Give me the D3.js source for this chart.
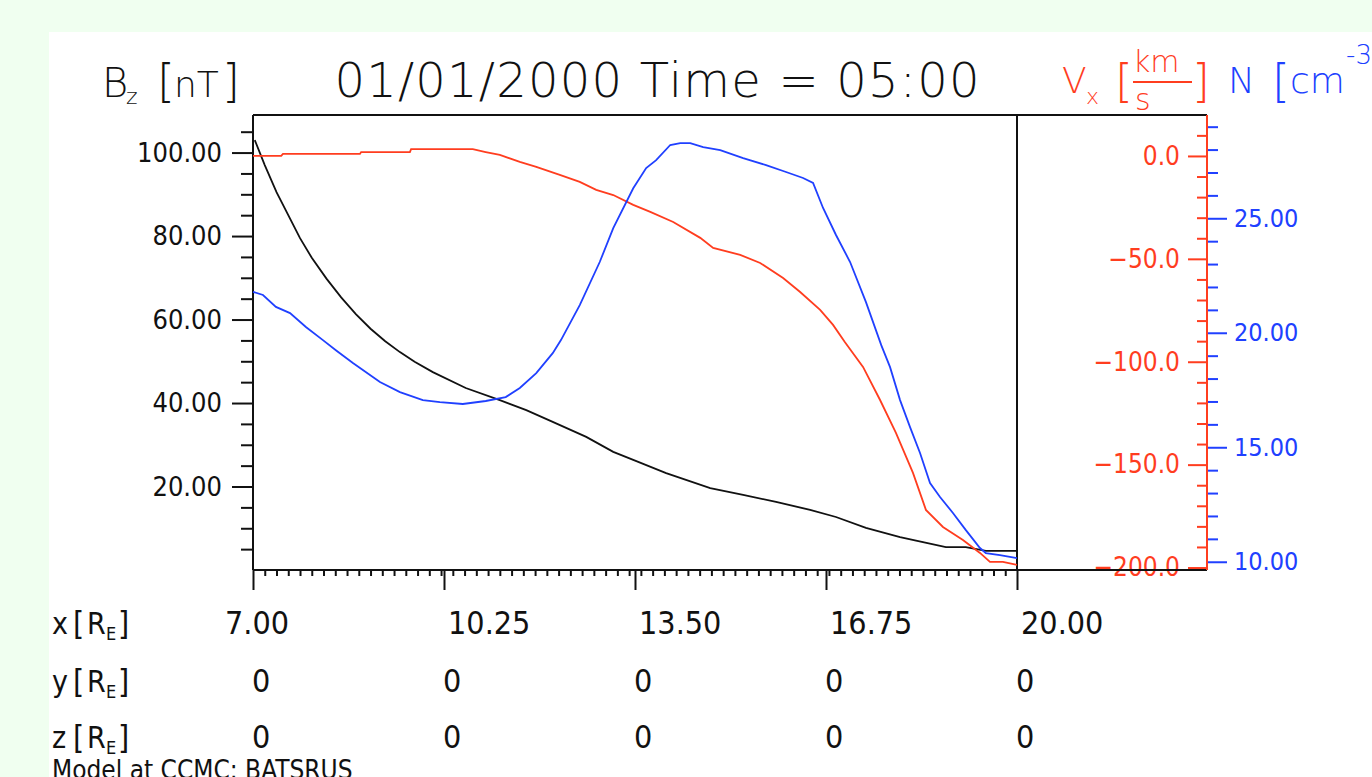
<!DOCTYPE html>
<html>
<head>
<meta charset="utf-8">
<script src="https://cdn.jsdelivr.net/npm/d3@7"></script>
<style>
  html, body { margin: 0; padding: 0; background: #f0fff0; overflow: hidden; }
  svg { display: block; }
  text { font-family: "DejaVu Sans", sans-serif; }
  .cond { font-stretch: condensed; }
  .thin { font-weight: 200; }
</style>
</head>
<body>
<svg id="chart" width="1372" height="777"></svg>
<script>
// DATA
const xTicks = [7.0, 10.25, 13.5, 16.75, 20.0];
const yRow = [0, 0, 0, 0, 0];
const zRow = [0, 0, 0, 0, 0];

const bzX = [7.03, 7.2, 7.4, 7.6, 7.8, 8.0, 8.25, 8.5, 8.75, 9.0, 9.25, 9.5, 9.75, 10.06, 10.62, 11.20, 11.65, 12.10, 12.67, 13.13, 13.47, 14.03, 14.78, 15.34, 15.90, 16.48, 16.92, 17.43, 18.01, 18.40, 18.79, 19.13, 19.47, 20.0];
const bzVal = [103.0, 97.0, 90.5, 85.0, 79.5, 74.8, 69.8, 65.3, 61.3, 57.8, 54.8, 52.2, 49.9, 47.4, 43.6, 40.7, 38.3, 35.5, 31.9, 28.3, 26.4, 23.2, 19.6, 18.0, 16.3, 14.4, 12.7, 10.1, 7.9, 6.7, 5.5, 5.5, 4.6, 4.6];

const vxX = [7.0, 7.48, 7.51, 8.82, 8.84, 9.67, 9.69, 10.74, 10.96, 11.20, 11.54, 11.82, 12.22, 12.56, 12.84, 13.13, 13.47, 13.76, 14.15, 14.61, 14.83, 15.29, 15.63, 16.02, 16.31, 16.65, 16.87, 17.07, 17.38, 17.67, 17.94, 18.23, 18.45, 18.74, 19.08, 19.37, 19.54, 19.76, 20.0];
const vxVal = [0.0, 0.0, 1.0, 1.0, 1.9, 1.9, 3.3, 3.3, 1.9, 0.5, -2.9, -5.3, -9.2, -12.6, -16.5, -19.0, -23.8, -27.2, -32.1, -39.8, -44.7, -48.1, -52.0, -59.3, -66.1, -74.8, -82.1, -90.4, -102.5, -118.6, -134.6, -154.0, -172.0, -180.3, -186.6, -192.9, -197.3, -197.3, -198.7];

const nX = [7.0, 7.17, 7.39, 7.63, 7.90, 8.19, 8.41, 8.70, 9.16, 9.50, 9.89, 10.18, 10.57, 10.96, 11.30, 11.54, 11.82, 12.10, 12.24, 12.56, 12.90, 13.13, 13.47, 13.69, 13.86, 14.10, 14.27, 14.44, 14.66, 14.95, 15.34, 15.73, 16.07, 16.36, 16.53, 16.70, 16.92, 17.16, 17.43, 17.69, 17.84, 18.01, 18.18, 18.35, 18.52, 18.69, 18.91, 19.13, 19.37, 19.47, 19.71, 20.0];
const nVal = [21.79, 21.65, 21.13, 20.86, 20.25, 19.68, 19.24, 18.68, 17.85, 17.41, 17.06, 16.97, 16.89, 17.02, 17.19, 17.59, 18.24, 19.11, 19.68, 21.21, 23.09, 24.57, 26.31, 27.19, 27.54, 28.20, 28.28, 28.28, 28.11, 27.98, 27.63, 27.32, 27.02, 26.76, 26.54, 25.45, 24.27, 23.09, 21.34, 19.46, 18.50, 17.06, 15.88, 14.75, 13.44, 12.83, 12.13, 11.38, 10.60, 10.38, 10.29, 10.16];

const bzMajor = [20, 40, 60, 80, 100];
const vxMajor = [0, -50, -100, -150, -200];
const nMajor = [10, 15, 20, 25];

// CANVAS SETUP
const W = 1372, H = 777;
const plotLeft = 253, plotTop = 115, plotBottom = 570, frameRight = 1207;
const RED = "#ff3d1f", BLUE = "#2040ff", INK = "#111";

const svg = d3.select("#chart");
svg.append("rect").attr("width", W).attr("height", H).attr("fill", "#f0fff0");
svg.append("rect").attr("x", 49).attr("y", 32).attr("width", W - 49).attr("height", H - 32).attr("fill", "#fff");

const xScale = d3.scaleLinear().domain([7, 20]).range([plotLeft, 1017]);
const yBz = d3.scaleLinear().domain([0, 109]).range([plotBottom, plotTop]);
const yVx = d3.scaleLinear().domain([-201.2, 19.9]).range([plotBottom, plotTop]);
const yN = d3.scaleLinear().domain([9.64, 29.51]).range([plotBottom, plotTop]);

// AXES
function styleAxis(g, color, size) {
  g.select(".domain").remove();
  g.selectAll("line").attr("stroke", color).attr("stroke-width", 2);
  g.selectAll("text").attr("fill", color).attr("font-size", size)
    .attr("font-family", "DejaVu Sans, sans-serif").attr("class", "cond");
  return g;
}

// left Bz axis
svg.append("g").attr("transform", `translate(${plotLeft},0)`)
  .call(d3.axisLeft(yBz).tickValues(d3.range(5, 109, 5).filter(v => v % 20 !== 0)).tickSize(12).tickFormat(""))
  .call(g => styleAxis(g, INK, 27));
svg.append("g").attr("transform", `translate(${plotLeft},0)`)
  .call(d3.axisLeft(yBz).tickValues(bzMajor).tickSize(21).tickPadding(10).tickFormat(d3.format(".2f")))
  .call(g => styleAxis(g, INK, 27));

// right Vx axis (red)
svg.append("g").attr("transform", `translate(${frameRight},0)`)
  .call(d3.axisLeft(yVx).tickValues(d3.range(-190, 11, 10).filter(v => v % 50 !== 0)).tickSize(10).tickFormat(""))
  .call(g => styleAxis(g, RED, 26));
svg.append("g").attr("transform", `translate(${frameRight},0)`)
  .call(d3.axisLeft(yVx).tickValues(vxMajor).tickSize(19).tickPadding(8).tickFormat(d3.format(".1f")))
  .call(g => styleAxis(g, RED, 26));

// right N axis (blue)
svg.append("g").attr("transform", `translate(${frameRight},0)`)
  .call(d3.axisRight(yN).tickValues(d3.range(11, 30, 1).filter(v => v % 5 !== 0)).tickSize(11).tickFormat(""))
  .call(g => styleAxis(g, BLUE, 25));
svg.append("g").attr("transform", `translate(${frameRight},0)`)
  .call(d3.axisRight(yN).tickValues(nMajor).tickSize(20).tickPadding(7).tickFormat(d3.format(".2f")))
  .call(g => styleAxis(g, BLUE, 25));

// bottom x axis
svg.append("g").attr("transform", `translate(0,${plotBottom})`)
  .call(d3.axisBottom(xScale).tickValues(d3.range(7.2, 19.9, 0.2)).tickSize(6).tickFormat(""))
  .call(g => styleAxis(g, INK, 24));
svg.append("g").attr("transform", `translate(0,${plotBottom})`)
  .call(d3.axisBottom(xScale).tickValues(xTicks).tickSize(20).tickFormat(""))
  .call(g => styleAxis(g, INK, 24));

// FRAME
const frame = svg.append("g").attr("stroke-width", 2).attr("fill", "none");
frame.append("line").attr("x1", plotLeft).attr("x2", frameRight).attr("y1", plotTop).attr("y2", plotTop).attr("stroke", INK);
frame.append("line").attr("x1", plotLeft).attr("x2", frameRight).attr("y1", plotBottom).attr("y2", plotBottom).attr("stroke", INK);
frame.append("line").attr("x1", plotLeft).attr("x2", plotLeft).attr("y1", plotTop).attr("y2", plotBottom).attr("stroke", INK);
frame.append("line").attr("x1", xScale(20)).attr("x2", xScale(20)).attr("y1", plotTop).attr("y2", plotBottom).attr("stroke", INK);
frame.append("line").attr("x1", frameRight).attr("x2", frameRight).attr("y1", plotTop).attr("y2", plotBottom).attr("stroke", RED);

// DATA LINES
const series = [
  { xs: bzX, ys: bzVal, scale: yBz, color: INK },
  { xs: vxX, ys: vxVal, scale: yVx, color: RED },
  { xs: nX, ys: nVal, scale: yN, color: BLUE },
];
series.forEach(s => {
  const pts = s.xs.map((x, i) => [x, s.ys[i]]);
  svg.append("path").datum(pts)
    .attr("fill", "none").attr("stroke", s.color).attr("stroke-width", 1.8)
    .attr("d", d3.line().x(d => xScale(d[0])).y(d => s.scale(d[1])));
});

// TITLES
svg.append("text").attr("class", "thin").attr("x", 657).attr("y", 97).attr("text-anchor", "middle")
  .attr("font-size", 48).attr("fill", INK).attr("textLength", 645).attr("lengthAdjust", "spacing")
  .text("01/01/2000 Time = 05:00");

// pieces of a label: [text, x, y, size]
function pieces(color, parts) {
  const t = svg.append("text").attr("class", "thin").attr("fill", color);
  parts.forEach(p => t.append("tspan").attr("x", p[1]).attr("y", p[2]).attr("font-size", p[3]).text(p[0]));
}
pieces(INK, [["B", 102, 97, 40], ["z", 126, 104, 22], ["[", 157, 97, 46], ["nT", 174, 97, 36], ["]", 222, 97, 46]]);
pieces(RED, [["V", 1062, 93, 36], ["x", 1086, 104, 22], ["[", 1115, 97, 46], ["km", 1133, 72, 30], ["s", 1135, 110, 30], ["]", 1192, 97, 46]]);
svg.append("line").attr("x1", 1133).attr("x2", 1192).attr("y1", 82).attr("y2", 82).attr("stroke", RED).attr("stroke-width", 2);
pieces(BLUE, [["N", 1228, 93, 36], ["[", 1272, 97, 46], ["cm", 1290, 93, 36], ["-3", 1346, 64, 26]]);

// POSITION ROWS UNDER THE AXIS
function rowLabel(name, y) {
  const t = svg.append("text").attr("class", "cond").attr("fill", INK);
  [[name, 52, 0, 30], ["[", 73, 0, 32], ["R", 87, 0, 30], ["E", 106, 6, 18], ["]", 118, 0, 32]]
    .forEach(p => t.append("tspan").attr("x", p[1]).attr("y", y + p[2]).attr("font-size", p[3]).text(p[0]));
}
rowLabel("x", 634);
rowLabel("y", 692);
rowLabel("z", 748);

svg.append("g").selectAll("text").data(xTicks).join("text")
  .attr("class", "cond")
  .attr("x", (d, i) => xScale(d) + 4)
  .attr("y", 634)
  .attr("text-anchor", (d, i) => (i === 0 ? "middle" : "start"))
  .attr("font-size", 32).attr("fill", INK)
  .text(d => d3.format(".2f")(d));

[[yRow, 692], [zRow, 748]].forEach(([vals, y]) => {
  svg.append("g").selectAll("text").data(vals).join("text")
    .attr("class", "cond")
    .attr("x", (d, i) => xScale(xTicks[i]) - 1)
    .attr("y", y)
    .attr("font-size", 32).attr("fill", INK)
    .text(d => d);
});

svg.append("text").attr("class", "cond").attr("x", 52).attr("y", 779).attr("font-size", 26).attr("fill", INK)
  .text("Model at CCMC: BATSRUS");
</script>
</body>
</html>
